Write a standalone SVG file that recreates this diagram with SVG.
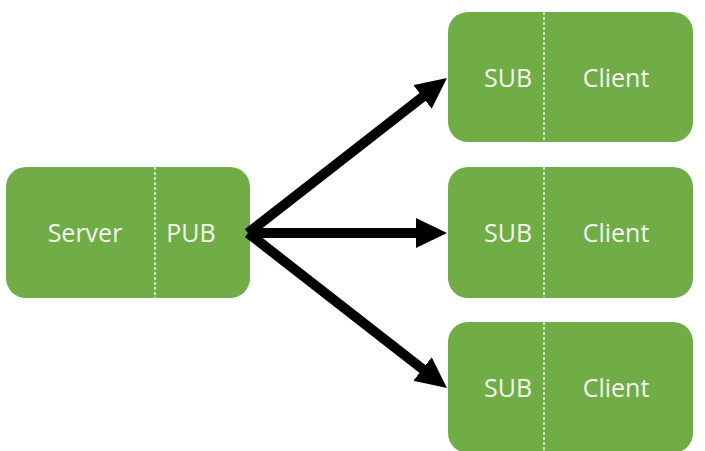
<svg xmlns="http://www.w3.org/2000/svg" width="705" height="451" viewBox="0 0 705 451">
<defs>
<style>
.box{fill:#70AD47;}
.div{stroke:#F2F2F2;stroke-width:1.5;stroke-dasharray:3 2;}
.t{font-family:"Open Sans","Noto Sans",sans-serif;font-size:25px;fill:#F5F5F0;text-anchor:middle;}
.conn{stroke:#000;stroke-width:10;fill:none;}
</style>
<marker id="ah" markerUnits="userSpaceOnUse" markerWidth="32" markerHeight="32" refX="1" refY="15" orient="auto">
<path d="M0,0 L31,15 L0,30 Z" fill="#000"/>
</marker>
</defs>
<g id="server">
<rect class="box" x="6" y="167" width="244" height="131" rx="20"/>
<line class="div" x1="155" y1="167" x2="155" y2="298"/>
<text class="t" x="85" y="242">Server</text>
<text class="t" x="191" y="242">PUB</text>
</g>
<g id="client1">
<rect class="box" x="448" y="12" width="245" height="130" rx="20"/>
<line class="div" x1="544" y1="12" x2="544" y2="142"/>
<text class="t" x="508" y="87">SUB</text>
<text class="t" x="616" y="87">Client</text>
</g>
<g id="client2">
<rect class="box" x="448" y="167" width="245" height="131" rx="20"/>
<line class="div" x1="544" y1="167" x2="544" y2="298"/>
<text class="t" x="508" y="242">SUB</text>
<text class="t" x="616" y="242">Client</text>
</g>
<g id="client3">
<rect class="box" x="448" y="322" width="245" height="131" rx="20"/>
<line class="div" x1="544" y1="322" x2="544" y2="451"/>
<text class="t" x="508" y="397">SUB</text>
<text class="t" x="616" y="397">Client</text>
</g>
<g id="connectors">
<line class="conn" x1="248" y1="233" x2="423.3" y2="96.4" marker-end="url(#ah)"/>
<line class="conn" x1="248" y1="233" x2="417" y2="233" marker-end="url(#ah)"/>
<line class="conn" x1="248" y1="233" x2="423.3" y2="369.6" marker-end="url(#ah)"/>
</g>
</svg>
